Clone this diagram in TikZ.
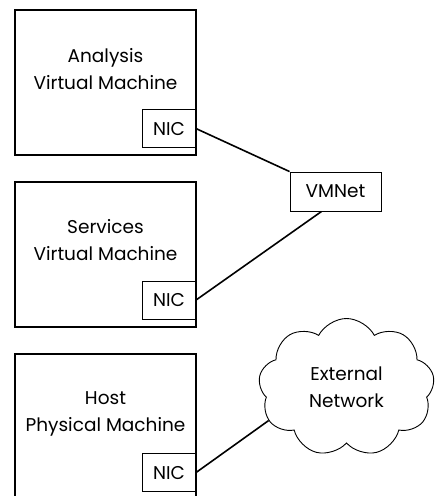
\documentclass[tikz,border=0pt]{standalone}
\usepackage{fontspec}
\setmainfont{Poppins}
\usepackage{tikz}
\usetikzlibrary{calc, positioning, shapes.symbols}
\tikzstyle{mbox}=[draw, line width=2pt, minimum width=181pt, minimum height=145pt, inner sep=0pt]
\tikzstyle{nic}=[draw, line width=0.9pt, minimum width=53pt, minimum height=38pt, inner sep=0pt, font=\fontsize{18.5}{20}\selectfont]
\tikzstyle{txt}=[align=center, font=\fontsize{18.5}{27}\selectfont]
\tikzstyle{wire}=[line width=1.6pt]
\tikzset{>=stealth}

\begin{document}
\begin{tikzpicture}[x=1pt, y=-1pt]
\useasboundingbox (0,0) rectangle (435,496);
\node[mbox] (ana) at (105.5,82.5) {};
\node[txt] (anaT) at (105.5,69) {Analysis\\Virtual Machine};
\node[nic, anchor=south east] (nicA) at ([shift={(-1,-8)}]ana.south east) {NIC};
\node[mbox] (srv) at (105.5,254) {};
\node[txt] (srvT) at (105.5,240) {Services\\Virtual Machine};
\node[nic, anchor=south east] (nicS) at ([shift={(-1,-8)}]srv.south east) {NIC};
\node[mbox] (host) at (105.5,426.5) {};
\node[txt] (hostT) at (105.5,414) {Host\\Physical Machine};
\node[nic, anchor=south east] (nicH) at ([shift={(-1,-8)}]host.south east) {NIC};
\node[nic, minimum width=91pt, minimum height=39pt] (vmnet) at (335.5,191.5) {VMNet};
\node[draw, cloud, cloud puffs=9, cloud puff arc=125, aspect=1.3, line width=0.9pt, minimum width=176pt, minimum height=138pt, txt] (ext) at (346.5,387.5) {External\\Network};
\draw[wire] (nicA.east) -- (vmnet.north west);
\draw[wire] (nicS.east) -- (vmnet.235);
\draw[wire] (nicH.east) -- (ext.203);
\end{tikzpicture}
\end{document}
